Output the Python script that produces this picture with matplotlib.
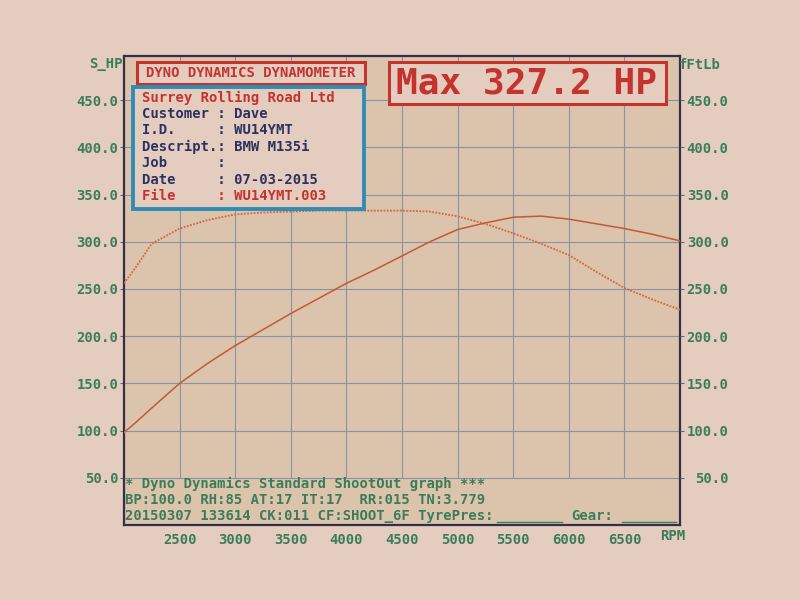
import matplotlib
matplotlib.use('Agg')
import matplotlib.pyplot as plt
from matplotlib.patches import Rectangle

# dyno run, values
rpm = [2000, 2100, 2250, 2500, 2750, 3000, 3250, 3500, 3750, 4000, 4250,
       4500, 4750, 5000, 5250, 5500, 5750, 6000, 6250, 6500, 6750, 7000]
power_hp = [98, 108, 124, 150, 171, 190, 207, 224, 240, 256, 270,
            285, 300, 313, 320, 326, 327.2, 324, 319, 314, 308, 301]
torque_ftlb = [256, 272, 298, 314, 323, 329, 331, 332, 333, 333, 333,
               333, 332, 327, 319, 309, 298, 286, 268, 251, 239, 228]

x_ticks = [2500, 3000, 3500, 4000, 4500, 5000, 5500, 6000, 6500]
y_ticks = [50, 100, 150, 200, 250, 300, 350, 400, 450]

info_lines = [('Customer', 'Dave'), ('I.D.', 'WU14YMT'), ('Descript.', 'BMW M135i'),
              ('Job', ''), ('Date', '07-03-2015'), ('File', 'WU14YMT.003')]
footer = ['* Dyno Dynamics Standard ShootOut graph ***',
          'BP:100.0 RH:85 AT:17 IT:17  RR:015 TN:3.779',
          '20150307 133614 CK:011 CF:SHOOT_6F TyrePres:']

PAPER = '#e4cdbf'
INSIDE = '#dbc4ab'
GRID = '#8893a8'
FRAME = '#35304a'
GREEN = '#3b7d58'
RED = '#c4332e'
NAVY = '#2d3160'
TEAL = '#2f8cb4'
MONO = 'DejaVu Sans Mono'

plt.rcParams['font.family'] = MONO
plt.rcParams['font.weight'] = 'bold'

fig = plt.figure(figsize=(8, 6), dpi=100, facecolor=PAPER)
ax = fig.add_axes([0.155, 0.125, 0.695, 0.782], facecolor=INSIDE)
ax.set_xlim(2000, 7000)
ax.set_ylim(0, 497)

# grid only above the footer text
ax.vlines(x_ticks, 50, 497, color=GRID, lw=0.8, zorder=1)
ax.hlines(y_ticks, 2000, 7000, color=GRID, lw=0.8, zorder=1)

ax.plot(rpm, torque_ftlb, color='#d2673f', lw=1.3, ls=(0, (1, 0.8)), zorder=3)
ax.plot(rpm, power_hp, color='#c25a36', lw=1.1, zorder=3)

for s in ax.spines.values():
    s.set_color(FRAME)
    s.set_linewidth(1.6)

ax.set_xticks(x_ticks)
ax.set_xticklabels([str(v) for v in x_ticks])
ax.set_yticks(y_ticks)
ax.set_yticklabels(['%.1f' % v for v in y_ticks])
ax.tick_params(axis='x', length=0, pad=6, colors=GREEN, labelsize=10)
ax.tick_params(axis='y', length=3, pad=1, colors=GREEN, labelsize=10)

ax2 = ax.twinx()
ax2.set_ylim(ax.get_ylim())
ax2.set_yticks(y_ticks)
ax2.set_yticklabels(['%.1f' % v for v in y_ticks])
ax2.tick_params(axis='y', length=3, pad=32, colors=GREEN, labelsize=10)
for lab in ax2.get_yticklabels():
    lab.set_ha('right')
for s in ax2.spines.values():
    s.set_visible(False)


def fx(px):
    return px / 800


def fy(py):
    return 1 - py / 600


fig.text(fx(123), fy(64), 'S_HP', color=GREEN, fontsize=10, ha='right', va='center')
fig.text(fx(679), fy(65), 'fFtLb', color=GREEN, fontsize=10, ha='left', va='center')
fig.text(fx(660), fy(536), 'RPM', color=GREEN, fontsize=10, ha='left', va='center')

# header boxes
fig.add_artist(Rectangle((fx(137), fy(84)), fx(228), 22 / 600, transform=fig.transFigure,
                         facecolor=PAPER, edgecolor=RED, lw=2.2, zorder=5))
fig.text(fx(251), fy(73), 'DYNO DYNAMICS DYNAMOMETER', color=RED, fontsize=10,
         ha='center', va='center', zorder=6)

fig.add_artist(Rectangle((fx(133), fy(209)), fx(231), 122 / 600, transform=fig.transFigure,
                         facecolor=PAPER, edgecolor=TEAL, lw=2.8, zorder=5))
fig.text(fx(142), fy(98), 'Surrey Rolling Road Ltd', color=RED, fontsize=10,
         va='center', zorder=6)
for i, (key, val) in enumerate(info_lines):
    col = RED if key == 'File' else NAVY
    fig.text(fx(142), fy(114 + i * 16.4), '%-9s: %s' % (key, val), color=col, fontsize=10,
             va='center', zorder=6)

fig.add_artist(Rectangle((fx(389), fy(104)), fx(277), 42 / 600, transform=fig.transFigure,
                         facecolor=PAPER, edgecolor=RED, lw=2.2, zorder=5))
fig.text(fx(527), fy(84), 'Max %.1f HP' % max(power_hp), color=RED, fontsize=26,
         ha='center', va='center', zorder=6)

# footer text inside the frame
for i, line in enumerate(footer):
    fig.text(fx(125), fy(484 + i * 16), line, color=GREEN, fontsize=10,
             va='center', zorder=6)
fig.text(fx(571), fy(516), 'Gear:', color=GREEN, fontsize=10, va='center', zorder=6)
fig.add_artist(plt.Line2D([fx(497), fx(562)], [fy(522), fy(522)], color=GREEN, lw=1,
                          transform=fig.transFigure))
fig.add_artist(plt.Line2D([fx(622), fx(676)], [fy(522), fy(522)], color=GREEN, lw=1,
                          transform=fig.transFigure))

fig.savefig('out.png', dpi=100, facecolor=PAPER)
